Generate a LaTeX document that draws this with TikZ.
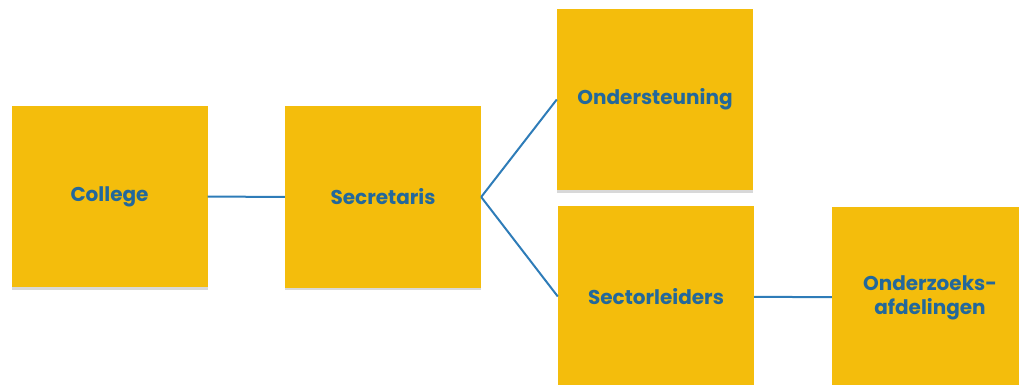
\documentclass[tikz,border=0pt]{standalone}
\usepackage{fontspec}
\setmainfont{Poppins}
\usetikzlibrary{shadows}
\definecolor{boxyellow}{HTML}{F4BD0C}
\definecolor{textblue}{HTML}{23689B}
\definecolor{lineblue}{HTML}{2E7CB8}
\begin{document}
\begin{tikzpicture}[x=1pt,y=-1pt,
    box/.style={fill=boxyellow, minimum width=196pt, minimum height=181pt,
      inner sep=0pt, text=textblue, align=center,
      font=\fontsize{20}{24}\selectfont\bfseries,
      drop shadow={shadow xshift=0pt, shadow yshift=-2.5pt, fill=black!30}},
    link/.style={draw=lineblue, line width=2pt}]
  \useasboundingbox (0,0) rectangle (1019,385);
  \draw
    (109.5,196.5) node[box] (college){College}
    (383,197) node[box] (secr){Secretaris}
    (655,99.5) node[box] (onderst){Ondersteuning}
    (656,296.5) node[box] (sector){Sectorleiders}
    (930,297.5) node[box] (onderz){Onderzoeks-\\afdelingen};
  \begin{scope}[link]
    \draw (college) to (secr);
    \draw (secr.east) to (onderst.west);
    \draw (secr.east) to (sector.west);
    \draw (sector) to (onderz);
  \end{scope}
\end{tikzpicture}
\end{document}
